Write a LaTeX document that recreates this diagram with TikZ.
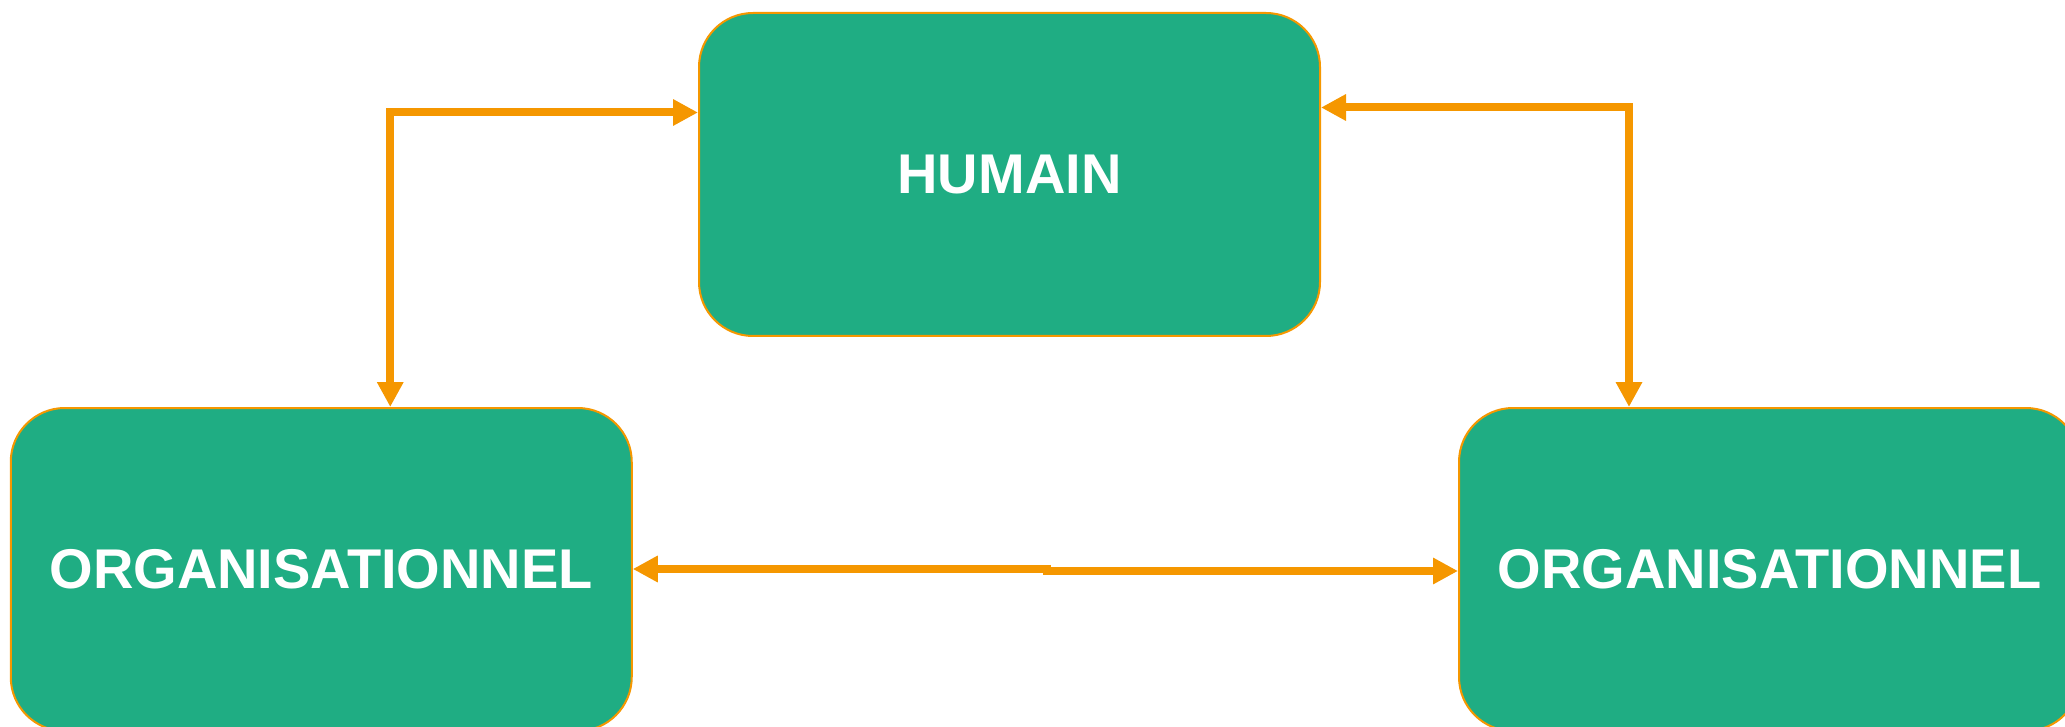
\documentclass[tikz,border=0pt]{standalone}
\usepackage{fontspec}
\setmainfont{Liberation Sans}
\usepackage{xcolor}
\usetikzlibrary{arrows.meta}
\definecolor{boxgreen}{HTML}{1FAD83}
\definecolor{linkorange}{HTML}{F59700}
\tikzset{
	block/.style={
			draw=linkorange, line width=2pt, fill=boxgreen,
			rounded corners=54pt,
			minimum width=621pt, minimum height=323pt,
			text=white, font=\fontsize{56}{67}\selectfont\bfseries
		},
	link/.style={
			draw=linkorange, line width=8pt,
			{Triangle[length=25pt,width=25pt]}-{Triangle[length=25pt,width=25pt]}
		}
}

\begin{document}
\begin{tikzpicture}[x=1pt, y=-1pt]
			\useasboundingbox (0, 0) rectangle (2065, 727);

			\node[block] (humain) at (1009.5, 174.5) {HUMAIN};
			\node[block] (orgleft) at (321.25, 569.5) {ORGANISATIONNEL};
			\node[block] (orgright) at (1769.5, 569.5) {ORGANISATIONNEL};

			\draw[link]	([yshift=62pt]humain.west) -| ([xshift=69pt]orgleft.north);
			\draw[link]	([yshift=67pt]humain.east) -| ([xshift=-140.5pt]orgright.north);
			\draw[link]	([yshift=0.5pt]orgleft.east) -- ++(414, 0) |- ([yshift=-1.5pt]orgright.west);
		\end{tikzpicture}
\end{document}
